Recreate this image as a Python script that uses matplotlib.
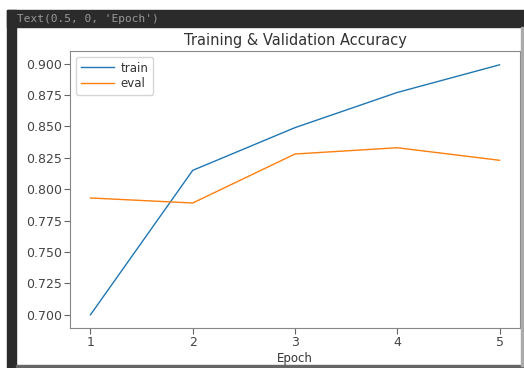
import matplotlib
matplotlib.use("Agg")
import matplotlib.pyplot as plt
from matplotlib.patches import Rectangle

epochs = [1, 2, 3, 4, 5]
train_acc = [0.700, 0.815, 0.849, 0.877, 0.899]
eval_acc = [0.793, 0.789, 0.828, 0.833, 0.823]

W, H = 524, 368
fig = plt.figure(figsize=(W / 100, H / 100), dpi=100)

# notebook output frame: dark bar on top, dark strip on the left
def px_rect(x0, y0, x1, y1, color):
    fig.patches.append(Rectangle((x0 / W, 1 - y1 / H), (x1 - x0) / W, (y1 - y0) / H,
                                 transform=fig.transFigure, color=color, zorder=0))

px_rect(7, 10, W, 27, "#2b2b2b")
px_rect(7, 10, 16, H, "#2b2b2b")
px_rect(16, 365, W, 367, "#666666")
px_rect(521, 27, 523, 366, "#aaaaaa")
fig.text(17 / W, 1 - 19 / H, "Text(0.5, 0, 'Epoch')", color="#999999",
         fontsize=8, family="DejaVu Sans Mono", va="center")

ax = fig.add_axes([70 / W, 1 - 328 / H, 450 / W, 277 / H])
ax.plot(epochs, train_acc, label="train", color="#1f77b4", lw=1.0)
ax.plot(epochs, eval_acc, label="eval", color="#ff7f0e", lw=1.0)
ax.set_title("Training & Validation Accuracy", fontsize=10.5, pad=4, color="#333333")
ax.set_xlabel("Epoch", fontsize=8.5, labelpad=2, color="#333333")
ax.set_xticks(epochs)
ax.set_yticks([0.700, 0.725, 0.750, 0.775, 0.800, 0.825, 0.850, 0.875, 0.900])
ax.tick_params(labelsize=9, length=4, pad=2, labelcolor="#444444", color="#666666")
ax.set_xlim(0.8, 5.2)
ax.set_ylim(0.6895, 0.910)
for s in ax.spines.values():
    s.set_color("#888888")
leg = ax.legend(loc="upper left", fontsize=8.5, handlelength=2.8, borderpad=0.4,
                labelspacing=0.2, handletextpad=0.6)
for t in leg.get_texts():
    t.set_color("#333333")

fig.savefig("out.png", dpi=100)
